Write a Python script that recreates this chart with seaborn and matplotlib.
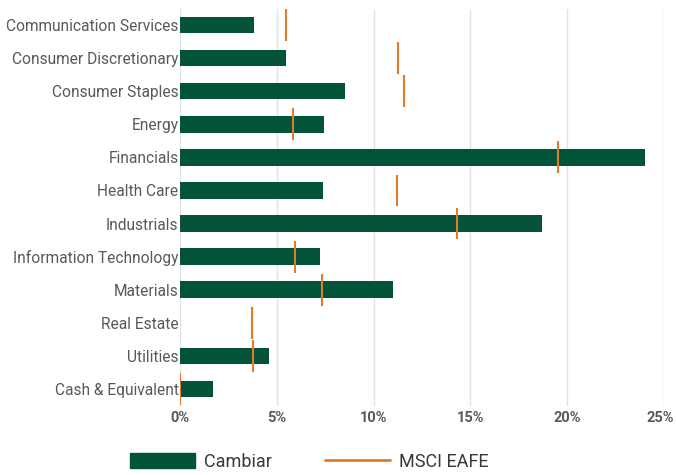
import matplotlib
matplotlib.use("Agg")
import matplotlib.pyplot as plt
import matplotlib.transforms as mtrans
import seaborn as sns
import pandas as pd
from matplotlib.patches import Patch
from matplotlib.lines import Line2D

sectors = ["Communication Services", "Consumer Discretionary", "Consumer Staples",
           "Energy", "Financials", "Health Care", "Industrials",
           "Information Technology", "Materials", "Real Estate", "Utilities",
           "Cash & Equivalent"]
cambiar = [3.8, 5.5, 8.5, 7.45, 24.0, 7.4, 18.7, 7.25, 11.0, 0.0, 4.6, 1.7]
msci = [5.5, 11.25, 11.55, 5.85, 19.5, 11.2, 14.3, 5.95, 7.35, 3.7, 3.75, 0.0]
xticks = [0, 5, 10, 15, 20, 25]
xticklabels = ["0%", "5%", "10%", "15%", "20%", "25%"]

GREEN = "#03533b"
ORANGE = "#e27a2c"
TEXT = "#555a5e"

sns.set_theme(style="white")
plt.rcParams['font.family'] = ['Roboto', 'DejaVu Sans']

df = pd.DataFrame({"sector": sectors, "cambiar": cambiar, "msci": msci})

fig = plt.figure(figsize=(6.76, 4.75), dpi=100)
ax = fig.add_axes([180/676, 1-405.5/475, (664-180)/676, (405.5-8.5)/475])

sns.barplot(data=df, y="sector", x="cambiar", orient="h", color=GREEN,
            width=0.5, saturation=1, ax=ax, zorder=2, linewidth=0)

for i, v in enumerate(df["msci"]):
    ax.vlines(v, i - 0.48, i + 0.48, color=ORANGE, linewidth=1.5, zorder=3)

ax.set_xlim(0, 25)
ax.set_ylim(11.5, -0.5)
ax.set_xticks(xticks)
ax.set_xticklabels(xticklabels, fontsize=10.5, color=TEXT, fontweight="semibold")
ax.tick_params(axis="y", labelsize=11.2, labelcolor=TEXT, length=0, pad=1)
ax.tick_params(axis="x", length=0, pad=4)
ax.set_xlabel("")
ax.set_ylabel("")
ax.grid(axis="x", color="#e2e2e2", linewidth=1, zorder=0)
ax.set_axisbelow(True)
for s in ax.spines.values():
    s.set_visible(False)
last = ax.get_xticklabels()[-1]
last.set_transform(last.get_transform() + mtrans.ScaledTranslation(-4/100, 0, fig.dpi_scale_trans))

handles = [Patch(facecolor=GREEN, edgecolor=GREEN),
           Line2D([0], [0], color=ORANGE, linewidth=2)]
fig.legend(handles, ["Cambiar", "MSCI EAFE"], loc="center left",
           bbox_to_anchor=(114/676, 0.028), ncol=2, frameon=False,
           fontsize=13, handlelength=3.6, handleheight=0.9,
           handletextpad=0.5, columnspacing=2.9, labelcolor="#333a40")

fig.savefig("out.png", dpi=100)
